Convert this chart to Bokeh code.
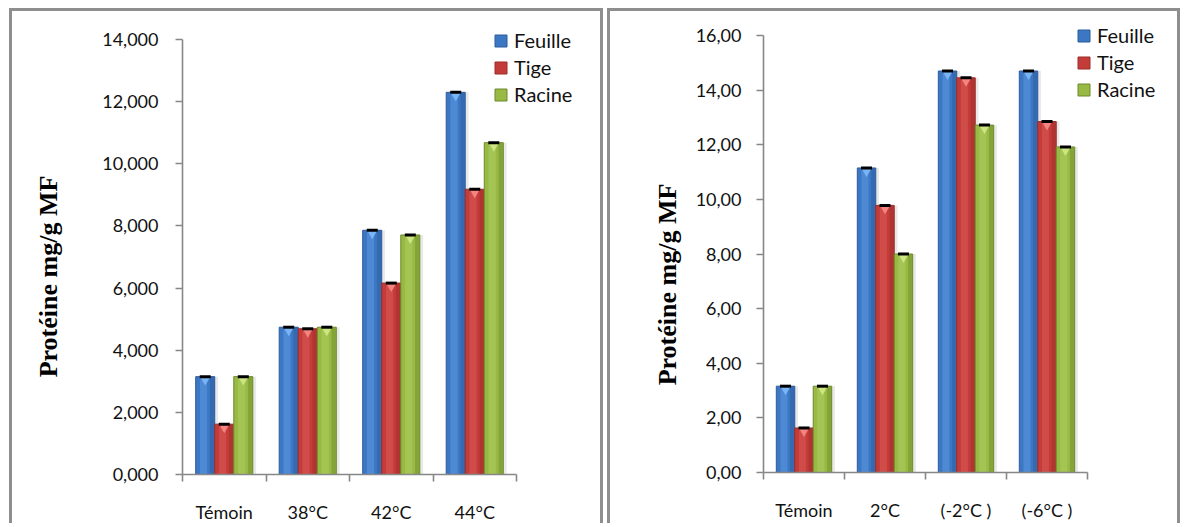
import math
from bokeh.plotting import figure
from bokeh.models import (ColumnDataSource, Range1d, FixedTicker, Legend,
                          LegendItem, Label, Spacer)
from bokeh.layouts import row, column
from bokeh.transform import dodge
from bokeh.embed import file_html
from bokeh.resources import INLINE

# Protein content (mg/g fresh matter) per organ, heat stress
heat_cats = ["Témoin", "38°C", "42°C", "44°C"]
heat_feuille = [3.15, 4.74, 7.86, 12.30]
heat_tige = [1.62, 4.69, 6.16, 9.18]
heat_racine = [3.15, 4.74, 7.71, 10.68]
heat_ticks = [0, 2, 4, 6, 8, 10, 12, 14]

# Protein content (mg/g fresh matter) per organ, cold stress
cold_cats = ["Témoin", "2°C", "(-2°C )", "(-6°C )"]
cold_feuille = [3.16, 11.15, 14.70, 14.70]
cold_tige = [1.63, 9.78, 14.45, 12.85]
cold_racine = [3.16, 8.00, 12.72, 11.92]
cold_ticks = [0, 2, 4, 6, 8, 10, 12, 14, 16]

series_names = ["Feuille", "Tige", "Racine"]

# (edge, main, highlight, bevel) colours for each organ
PALETTE = [
    ("#2d5c9c", "#3c77c4", "#5591dc", "#79b4f4"),
    ("#9a2c2a", "#c43c3a", "#d6524f", "#f38480"),
    ("#6c8a2a", "#98ba45", "#aacb5a", "#cde582"),
]

AXIS_GREY = "#878787"
BORDER = "3px solid #8e8e8e"
BAR_W = 0.228
OFFSETS = [-0.228, 0.0, 0.228]
FRAME_PAD = 4


def make_panel(cats, feuille, tige, racine, ticks, decimals, width, height,
               origin, axis_size, y_standoff, ylabel_px, legend_loc):
    ox, oy = origin            # canvas pixel of the (0, 0) corner
    axis_w, axis_h = axis_size
    n = len(cats)
    px_x = axis_w / n
    px_y = axis_h / ticks[-1]
    # the frame fills the whole canvas; the axes sit inside it
    x_start = -(ox - FRAME_PAD) / px_x
    x_end = (width - FRAME_PAD - ox) / px_x
    y_start = -(height - FRAME_PAD - oy) / px_y
    y_end = (oy - FRAME_PAD) / px_y
    src = ColumnDataSource(dict(
        x=[i + 0.5 for i in range(n)],
        feuille=feuille, tige=tige, racine=racine,
    ))
    p = figure(width=width, height=height, output_backend="svg",
               toolbar_location=None,
               x_range=Range1d(x_start, x_end),
               y_range=Range1d(y_start, y_end),
               min_border_left=FRAME_PAD, min_border_right=FRAME_PAD,
               min_border_top=FRAME_PAD, min_border_bottom=FRAME_PAD)
    p.outline_line_color = None
    p.grid.visible = False
    p.background_fill_color = "white"
    p.border_fill_color = "white"
    p.styles = {"border-left": BORDER, "border-top": BORDER,
                "border-right": BORDER}

    bevel_shift = -3.2 / px_y

    items = []
    for field, name, off, (edge, main, hi, bev) in zip(
            ["feuille", "tige", "racine"], series_names, OFFSETS, PALETTE):
        p.vbar(x=dodge("x", off + 0.04, range=p.x_range), top=field,
               width=BAR_W, source=src, fill_color="#9a9a9a",
               fill_alpha=0.22, line_color=None)
        body = p.vbar(x=dodge("x", off, range=p.x_range), top=field,
                      width=BAR_W, source=src, fill_color=main,
                      line_color=edge, line_width=1)
        p.vbar(x=dodge("x", off - 0.02, range=p.x_range), top=field,
               width=BAR_W * 0.38, source=src, fill_color=hi,
               fill_alpha=0.7, line_color=None)
        p.vbar(x=dodge("x", off + BAR_W * 0.36, range=p.x_range), top=field,
               width=BAR_W * 0.22, source=src, fill_color=edge,
               fill_alpha=0.45, line_color=None)
        p.scatter(x=dodge("x", off, range=p.x_range),
                  y=dodge(field, bevel_shift, range=p.y_range),
                  source=src, marker="inverted_triangle", size=10,
                  fill_color=bev, line_color=None)
        p.scatter(x=dodge("x", off, range=p.x_range), y=field, source=src,
                  marker="dash", size=11, line_color="black", line_width=3)
        items.append(LegendItem(label=name, renderers=[body]))

    lx, ly = legend_loc
    legend = Legend(items=items,
                    location=(ox - FRAME_PAD + lx,
                              height - FRAME_PAD - oy + ly),
                    padding=0, margin=0,
                    spacing=3, glyph_width=15, glyph_height=15,
                    label_standoff=6, label_text_font="Lato",
                    label_text_font_size="20px", label_text_color="#111111",
                    background_fill_alpha=0, border_line_color=None)
    p.add_layout(legend)

    ya = p.yaxis[0]
    ya.fixed_location = 0
    ya.bounds = (0, ticks[-1])
    ya.ticker = FixedTicker(ticks=ticks)
    ya.major_label_overrides = {
        t: f"{t:.{decimals}f}".replace(".", ",") for t in ticks}
    ya.major_tick_out = 7
    ya.major_tick_in = 0
    ya.minor_tick_out = 0
    ya.minor_tick_in = 0
    ya.major_label_standoff = y_standoff

    xa = p.xaxis[0]
    xa.fixed_location = 0
    centers = [i + 0.5 for i in range(n)]
    xa.bounds = (0, n)
    xa.ticker = FixedTicker(ticks=centers, minor_ticks=list(range(n + 1)))
    xa.major_label_overrides = {c: lab for c, lab in zip(centers, cats)}
    xa.major_tick_out = 0
    xa.major_tick_in = 0
    xa.minor_tick_out = 7
    xa.minor_tick_in = 0
    xa.major_label_standoff = 19

    for ax in (xa, ya):
        ax.axis_line_color = AXIS_GREY
        ax.axis_line_width = 1.6
        ax.major_tick_line_color = AXIS_GREY
        ax.major_tick_line_width = 1.6
        ax.minor_tick_line_color = AXIS_GREY
        ax.minor_tick_line_width = 1.6
        ax.major_label_text_font = "Lato"
        ax.major_label_text_font_size = "18px"
        ax.major_label_text_color = "#111111"

    lab_x, lab_y = ylabel_px
    p.add_layout(Label(x=(lab_x - ox) / px_x, y=(oy - lab_y) / px_y,
                       text="Protéine mg/g MF", angle=math.pi / 2,
                       text_align="center", text_baseline="middle",
                       text_font="Liberation Serif", text_font_style="bold",
                       text_font_size="26px", text_color="black"))
    return p


# canvas origins: left panel canvas starts at page (12, 11), right at (616, 11)
left_panel = make_panel(heat_cats, heat_feuille, heat_tige, heat_racine,
                        heat_ticks, 3, 594, 515, (170, 463), (334, 435), 17,
                        (36, 265), (311, 368))
right_panel = make_panel(cold_cats, cold_feuille, cold_tige, cold_racine,
                         cold_ticks, 2, 573, 515, (153, 461), (324, 437), 15,
                         (57, 273), (313, 371))

page = column(Spacer(height=8),
              row(Spacer(width=9), left_panel, Spacer(width=4), right_panel))

open("out.html", "w").write(file_html(page, INLINE))
